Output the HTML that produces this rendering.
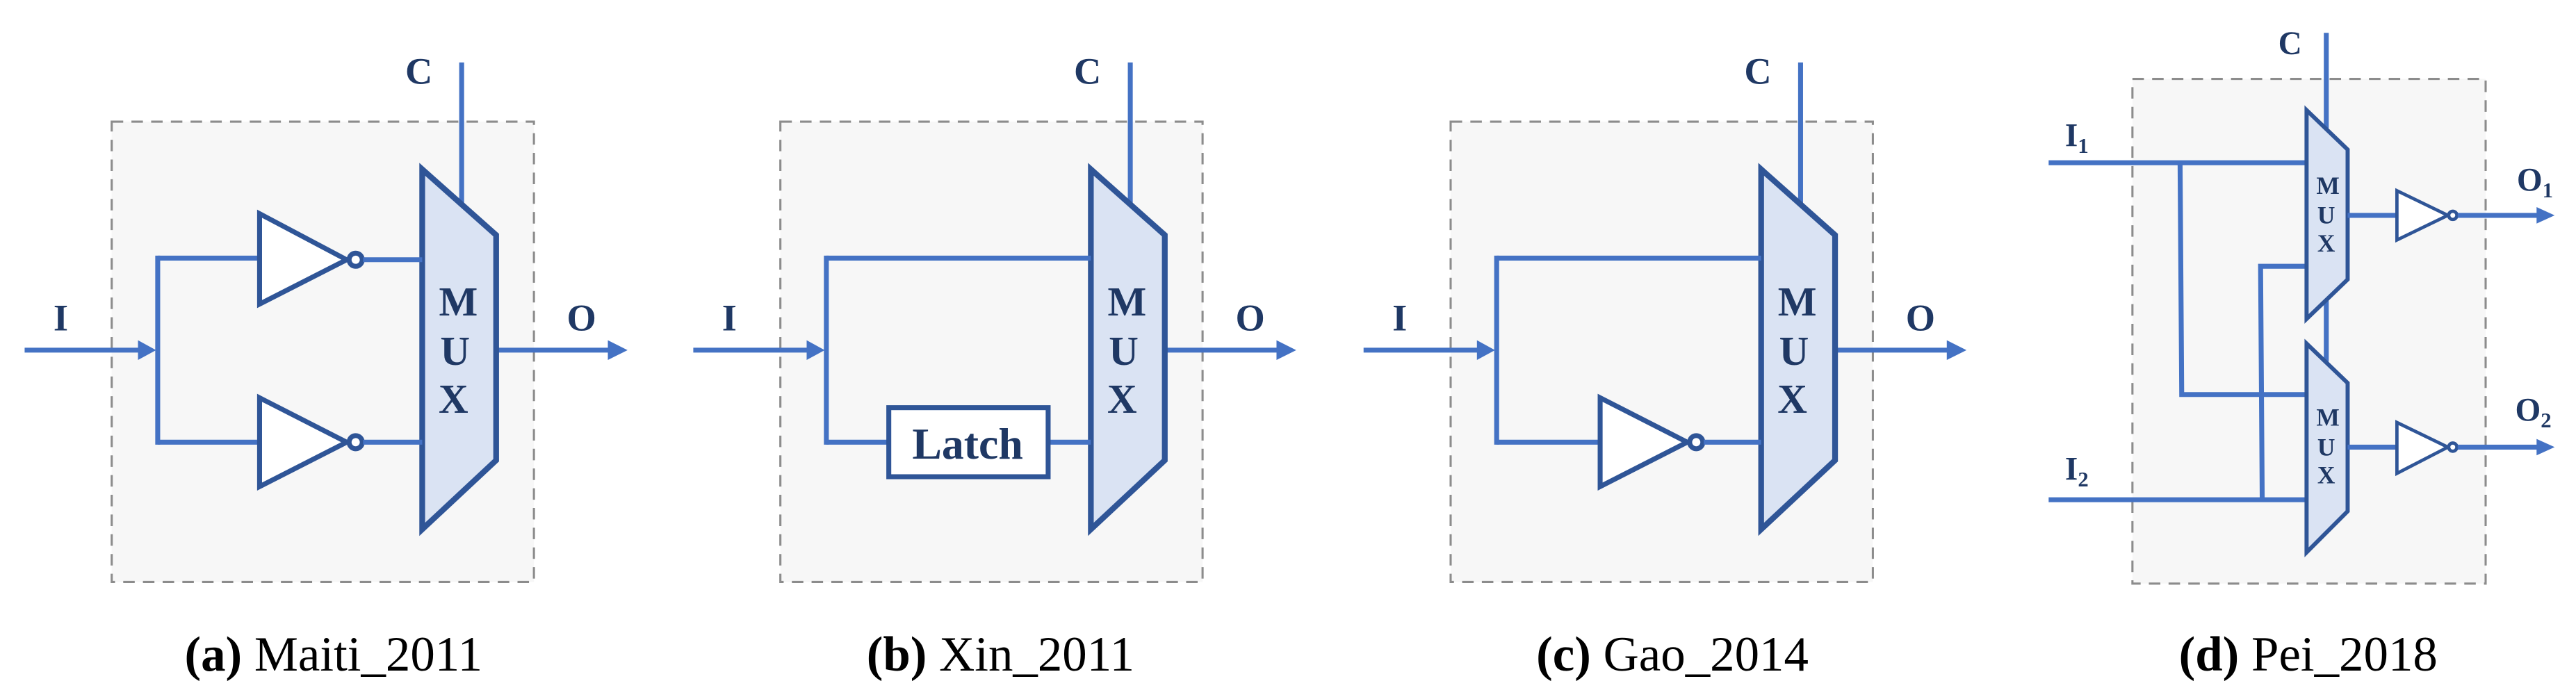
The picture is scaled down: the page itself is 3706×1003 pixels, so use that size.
<!DOCTYPE html>
<html><head><meta charset="utf-8"><style>
html,body{margin:0;padding:0;background:#fff;}
svg{display:block;}
text{font-family:"Liberation Serif",serif;}
.l{stroke:#4472c4;stroke-width:3;fill:none;}
.m{stroke:#2f5597;stroke-width:3.5;fill:#dae3f3;stroke-linejoin:miter;}
.g{stroke:#2f5597;stroke-width:3;fill:#fff;}
.b{fill:#f7f7f7;stroke:#8c8c8c;stroke-width:1.3;stroke-dasharray:7,5;}
.t{fill:#1f3864;font-weight:bold;}
.cap{font-size:30px;fill:#000;}
</style></head><body>
<svg width="3706" height="1003" viewBox="0 0 1568 424" preserveAspectRatio="none" xmlns="http://www.w3.org/2000/svg">
<defs>
<g id="base">
  <rect class="b" x="68" y="74" width="257" height="280"/>
  <line class="l" x1="281" y1="38" x2="281" y2="124"/>
  <text class="t" x="255" y="51" font-size="23" text-anchor="middle">C</text>
  <text class="t" x="37" y="201" font-size="23" text-anchor="middle">I</text>
  <text class="t" x="354" y="201" font-size="23" text-anchor="middle">O</text>
  <line class="l" x1="15" y1="213" x2="86" y2="213"/>
  <polygon points="84,207 95,213 84,219" fill="#4472c4"/>
  <line class="l" x1="96" y1="155.5" x2="96" y2="270.5"/>
  <line class="l" x1="302" y1="213" x2="372" y2="213"/>
  <polygon points="370,207 382,213 370,219" fill="#4472c4"/>
  <polygon class="m" points="257,103 302,143 302,280 257,322"/>
  <text class="t" x="279" y="192" font-size="25" text-anchor="middle">M</text>
  <text class="t" x="277" y="222" font-size="25" text-anchor="middle">U</text>
  <text class="t" x="276" y="251" font-size="25" text-anchor="middle">X</text>
</g>
</defs>

<!-- (a) -->
<g>
  <use href="#base"/>
  <line class="l" x1="96" y1="157" x2="158" y2="157"/>
  <line class="l" x1="96" y1="269" x2="158" y2="269"/>
  <polygon class="g" points="158,130 158,185 211,158"/>
  <circle class="g" cx="216.5" cy="158" r="4"/>
  <line class="l" x1="221" y1="158" x2="257" y2="158"/>
  <polygon class="g" points="158,242 158,296 211,269"/>
  <circle class="g" cx="216.5" cy="269" r="4"/>
  <line class="l" x1="221" y1="269" x2="257" y2="269"/>
  <text class="cap" x="203" y="408" text-anchor="middle"><tspan font-weight="bold">(a)</tspan> Maiti_2011</text>
</g>

<!-- (b) -->
<g transform="translate(407,0)">
  <use href="#base"/>
  <line class="l" x1="96" y1="157" x2="257" y2="157"/>
  <line class="l" x1="96" y1="269" x2="134" y2="269"/>
  <line class="l" x1="231" y1="269" x2="257" y2="269"/>
  <rect class="g" x="134" y="248" width="97" height="42"/>
  <text class="t" x="182" y="279" font-size="27" text-anchor="middle">Latch</text>
</g>
<text class="cap" x="609" y="408" text-anchor="middle"><tspan font-weight="bold">(b)</tspan> Xin_2011</text>

<!-- (c) -->
<g transform="translate(815,0)">
  <use href="#base"/>
  <line class="l" x1="96" y1="157" x2="257" y2="157"/>
  <line class="l" x1="96" y1="269" x2="159" y2="269"/>
  <polygon class="g" points="159,242 159,296 212,269"/>
  <circle class="g" cx="217.5" cy="269" r="4"/>
  <line class="l" x1="222" y1="269" x2="257" y2="269"/>
</g>
<text class="cap" x="1018" y="408" text-anchor="middle"><tspan font-weight="bold">(c)</tspan> Gao_2014</text>

<!-- (d) -->
<g>
  <rect class="b" x="1298" y="48" width="215" height="307"/>
  <line class="l" x1="1416" y1="20" x2="1416" y2="78"/>
  <line class="l" x1="1416" y1="182" x2="1416" y2="220"/>
  <text class="t" x="1394" y="33" font-size="20" text-anchor="middle">C</text>
  <text class="t" x="1257" y="89" font-size="20">I<tspan font-size="13" dy="4">1</tspan></text>
  <text class="t" x="1257" y="292" font-size="20">I<tspan font-size="13" dy="4">2</tspan></text>
  <text class="t" x="1532" y="116" font-size="20">O<tspan font-size="13" dy="4">1</tspan></text>
  <text class="t" x="1531" y="256" font-size="20">O<tspan font-size="13" dy="4">2</tspan></text>
  <line class="l" x1="1247" y1="99" x2="1404" y2="99"/>
  <polyline class="l" points="1327,99 1328,240 1404,240"/>
  <line class="l" x1="1247" y1="304" x2="1404" y2="304"/>
  <polyline class="l" points="1377,304 1376,162 1404,162"/>
  <polygon class="m" style="stroke-width:2.5" points="1404,67 1429,91 1429,170 1404,194"/>
  <polygon class="m" style="stroke-width:2.5" points="1404,209 1429,233 1429,311 1404,336"/>
  <text class="t" x="1417" y="118" font-size="15" text-anchor="middle">M</text>
  <text class="t" x="1416" y="136" font-size="15" text-anchor="middle">U</text>
  <text class="t" x="1416" y="153" font-size="15" text-anchor="middle">X</text>
  <text class="t" x="1417" y="259" font-size="15" text-anchor="middle">M</text>
  <text class="t" x="1416" y="277" font-size="15" text-anchor="middle">U</text>
  <text class="t" x="1416" y="294" font-size="15" text-anchor="middle">X</text>
  <line class="l" x1="1429" y1="131" x2="1459" y2="131"/>
  <polygon class="g" style="stroke-width:2" points="1459,116 1459,146 1490,131"/>
  <circle class="g" style="stroke-width:2" cx="1493" cy="131" r="2.5"/>
  <line class="l" x1="1496" y1="131" x2="1546" y2="131"/>
  <polygon points="1544,126 1555,131 1544,136" fill="#4472c4"/>
  <line class="l" x1="1429" y1="272" x2="1459" y2="272"/>
  <polygon class="g" style="stroke-width:2" points="1459,257 1459,288 1490,272"/>
  <circle class="g" style="stroke-width:2" cx="1493" cy="272" r="2.5"/>
  <line class="l" x1="1496" y1="272" x2="1546" y2="272"/>
  <polygon points="1544,267 1555,272 1544,277" fill="#4472c4"/>
  <text class="cap" x="1405" y="408" text-anchor="middle"><tspan font-weight="bold">(d)</tspan> Pei_2018</text>
</g>
</svg>
</body></html>
